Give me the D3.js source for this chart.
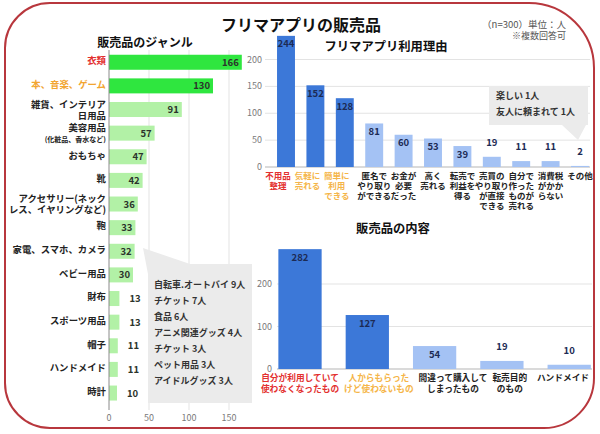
<!DOCTYPE html>
<html><head><meta charset="utf-8">
<script src="https://cdn.jsdelivr.net/npm/d3@7"></script>
<style>
html,body{margin:0;padding:0;background:#fff;}
svg{display:block;font-family:"Noto Sans CJK JP","Noto Sans",sans-serif;}
</style></head>
<body><svg id="chart" width="600" height="434"></svg>
<script>
// ---------- data ----------
const mainTitle = "フリマアプリの販売品";
const noteLines = ["（n=300）単位：人", "※複数回答可"];

const genreTitle = "販売品のジャンル";
const genreLabels = [["衣類"],["本、音楽、ゲーム"],["雑貨、インテリア","日用品"],["美容用品","(化粧品、香水など)"],["おもちゃ"],["靴"],["アクセサリー(ネック","レス、イヤリングなど)"],["鞄"],["家電、スマホ、カメラ"],["ベビー用品"],["財布"],["スポーツ用品"],["帽子"],["ハンドメイド"],["時計"]];
const genreValues = [166,130,91,57,47,42,36,33,32,30,13,13,11,11,10];
const genreTicks = [0,50,100,150];
const genreOther = ["自転車.オートバイ 9人","チケット 7人","食品 6人","アニメ関連グッズ 4人","チケット 3人","ペット用品 3人","アイドルグッズ 3人"];

const reasonTitle = "フリマアプリ利用理由";
const reasonLabels = [["不用品","整理"],["気軽に","売れる"],["簡単に","利用","できる"],["匿名で","やり取り","ができる"],["お金が","必要","だった"],["高く","売れる"],["転売で","利益を","得る"],["売買の","やり取り","が直接","できる"],["自分で","作った","ものが","売れる"],["消費税","がかか","らない"],["その他"]];
const reasonValues = [244,152,128,81,60,53,39,19,11,11,2];
const reasonTicks = [0,50,100,150,200];
const reasonOther = ["楽しい 1人","友人に頼まれて 1人"];

const contentTitle = "販売品の内容";
const contentLabels = [["自分が利用していて","使わなくなったもの"],["人からもらった","けど使わないもの"],["間違って購入して","しまったもの"],["転売目的","のもの"],["ハンドメイド"]];
const contentValues = [282,127,54,19,10];
const contentTicks = [0,100,200];

// ---------- styles ----------
const RED = "#e3302f", ORANGE = "#f2a530", ORANGE2 = "#f5b548";
const GREEN_HI = "#2fe63f", GREEN_LO = "#b2f1a6";
const BLUE_HI = "#3c78d8", BLUE_LO = "#a4c2f4";
const NAVY = "#1c2b55", GRID = "#e3e3e3", TICK = "#7a7a7a", TXT = "#222";

const svg = d3.select("#chart");

// border
svg.append("path")
  .attr("d","M50,3 H529 A65,65 0 0 1 594,68 V378 A50,50 0 0 1 544,428 H50 A45,45 0 0 1 5,383 V48 A45,45 0 0 1 50,3 Z")
  .attr("fill","#fff").attr("stroke","#b8373d").attr("stroke-width",2);

// title + notes
svg.append("text").attr("x",301).attr("y",31).attr("text-anchor","middle")
  .attr("font-size",16).attr("font-weight",700).attr("fill","#111").text(mainTitle);
svg.append("text").attr("x",566).attr("y",28).attr("text-anchor","end")
  .attr("font-size",9.5).attr("fill","#555").text(noteLines[0]);
svg.append("text").attr("x",566).attr("y",38.5).attr("text-anchor","end")
  .attr("font-size",9).attr("fill","#555").text(noteLines[1]);

// ================= LEFT: genre =================
const gx = d3.scaleLinear().domain([0,150]).range([109,229]);
const gy = d3.scaleBand().domain(d3.range(genreValues.length)).range([50.5,404.8]).paddingInner(0.365).paddingOuter(0.18);

svg.append("text").attr("x",145).attr("y",47).attr("text-anchor","middle")
  .attr("font-size",12).attr("font-weight",700).attr("fill","#111").text(genreTitle);

const gL = svg.append("g");
gL.selectAll("line.grid").data(genreTicks.slice(1)).join("line")
  .attr("x1",d=>gx(d)).attr("x2",d=>gx(d)).attr("y1",50).attr("y2",410)
  .attr("stroke",GRID).attr("stroke-width",1);
gL.selectAll("text.tick").data(genreTicks).join("text")
  .attr("x",d=>gx(d)).attr("y",421).attr("text-anchor","middle")
  .attr("font-size",9).attr("fill",TICK).text(d=>d);

gL.selectAll("rect").data(genreValues).join("rect")
  .attr("x",gx(0)).attr("y",(d,i)=>gy(i)).attr("width",d=>gx(d)-gx(0)).attr("height",gy.bandwidth())
  .attr("fill",(d,i)=>i<2?GREEN_HI:GREEN_LO);

gL.append("line").attr("x1",109).attr("x2",109).attr("y1",50).attr("y2",410)
  .attr("stroke","#8a8a8a").attr("stroke-width",1);

gL.selectAll("text.val").data(genreValues).join("text")
  .attr("x",d=>d>=30?gx(d)-3:gx(d)+10)
  .attr("y",(d,i)=>gy(i)+gy.bandwidth()/2+3.5)
  .attr("text-anchor",d=>d>=30?"end":"start")
  .attr("font-size",9.5).attr("font-weight",700).attr("fill","#2b332b").text(d=>d);

genreLabels.forEach((lines,i)=>{
  const c = gy(i)+gy.bandwidth()/2;
  const color = i===0?RED:(i===1?ORANGE:TXT);
  lines.forEach((ln,j)=>{
    const small = ln.startsWith("(") && j===1;
    let cy;
    if(lines.length===1) cy = c-1.5;
    else cy = j===0 ? c-5 : c+6;
    gL.append("text").attr("x",106).attr("y",cy+(small?2.5:3.3))
      .attr("text-anchor","end").attr("font-size",small?7:9.4).attr("font-weight",700)
      .attr("fill",color).text(ln);
  });
});

// callout box (left)
svg.append("path")
  .attr("d","M143,248 L190,264 L252,264 L252,403 L148,403 L148,274 Z")
  .attr("fill","#ebebeb");
svg.selectAll("text.other1").data(genreOther).join("text")
  .attr("x",154).attr("y",(d,i)=>287.5+i*16)
  .attr("font-size",9).attr("font-weight",700).attr("fill","#333").text(d=>d);

// ================= TOP RIGHT: reasons =================
const rx = d3.scaleBand().domain(d3.range(reasonValues.length)).range([271.3,594.7]).paddingInner(0.39).paddingOuter(0.195);
const ry = d3.scaleLinear().domain([0,200]).range([167,59.5]);

const gR = svg.append("g");
gR.selectAll("line.grid").data(reasonTicks).join("line")
  .attr("x1",265).attr("x2",590).attr("y1",d=>ry(d)).attr("y2",d=>ry(d))
  .attr("stroke",d=>d===0?"#b5b5b5":GRID).attr("stroke-width",1);
gR.selectAll("text.tick").data(reasonTicks).join("text")
  .attr("x",262).attr("y",d=>ry(d)+3).attr("text-anchor","end")
  .attr("font-size",9).attr("fill",TICK).text(d=>d);

svg.append("path")
  .attr("d","M489,86 L588,86 L588,125 L586,125 L578,140 L562,125 L489,125 Z")
  .attr("fill","#ebebeb");
svg.selectAll("text.other2").data(reasonOther).join("text")
  .attr("x",496).attr("y",(d,i)=>98.5+i*16)
  .attr("font-size",9).attr("font-weight",700).attr("fill","#333").text(d=>d);

gR.selectAll("rect").data(reasonValues).join("rect")
  .attr("x",(d,i)=>rx(i)).attr("width",rx.bandwidth())
  .attr("y",d=>ry(d)).attr("height",d=>ry(0)-ry(d))
  .attr("fill",(d,i)=>i<3?BLUE_HI:BLUE_LO);
gR.selectAll("text.val").data(reasonValues).join("text")
  .attr("x",(d,i)=>rx(i)+rx.bandwidth()/2)
  .attr("y",d=>d>=30?ry(d)+11.5:ry(d)-11)
  .attr("text-anchor","middle").attr("font-size",9.5).attr("font-weight",700)
  .attr("fill",NAVY).text(d=>d);

reasonLabels.forEach((lines,i)=>{
  const cx = rx(i)+rx.bandwidth()/2 + (i<3?-8:0);
  const color = i===0?RED:(i<3?ORANGE2:TXT);
  lines.forEach((ln,j)=>{
    gR.append("text").attr("x",cx).attr("y",178.5+j*10.3)
      .attr("text-anchor","middle").attr("font-size",8.5).attr("font-weight",700)
      .attr("fill",color).text(ln);
  });
});

svg.append("text").attr("x",386).attr("y",51).attr("text-anchor","middle")
  .attr("font-size",12.3).attr("font-weight",700).attr("fill","#111").text(reasonTitle);

// ================= BOTTOM RIGHT: content =================
const cx = d3.scaleBand().domain(d3.range(contentValues.length)).range([266.35,602.85]).paddingInner(0.357).paddingOuter(0.1785);
const cy = d3.scaleLinear().domain([0,200]).range([369,284]);

svg.append("text").attr("x",393).attr("y",233).attr("text-anchor","middle")
  .attr("font-size",12.3).attr("font-weight",700).attr("fill","#111").text(contentTitle);

const gC = svg.append("g");
gC.selectAll("line.grid").data(contentTicks).join("line")
  .attr("x1",277).attr("x2",592).attr("y1",d=>cy(d)).attr("y2",d=>cy(d))
  .attr("stroke",d=>d===0?"#b5b5b5":GRID).attr("stroke-width",1);
gC.selectAll("text.tick").data(contentTicks).join("text")
  .attr("x",272).attr("y",d=>cy(d)+3).attr("text-anchor","end")
  .attr("font-size",9).attr("fill",TICK).text(d=>d);

gC.selectAll("rect").data(contentValues).join("rect")
  .attr("x",(d,i)=>cx(i)).attr("width",cx.bandwidth())
  .attr("y",d=>cy(d)).attr("height",d=>cy(0)-cy(d))
  .attr("fill",(d,i)=>i<2?BLUE_HI:BLUE_LO);
gC.selectAll("text.val").data(contentValues).join("text")
  .attr("x",(d,i)=>cx(i)+cx.bandwidth()/2)
  .attr("y",d=>d>=30?cy(d)+12:cy(d)-11)
  .attr("text-anchor","middle").attr("font-size",9.5).attr("font-weight",700)
  .attr("fill",NAVY).text(d=>d);

// category labels laid out left-to-right without collisions
const groups = contentLabels.map((lines,i)=>{
  const color = i===0?RED:(i===1?ORANGE2:TXT);
  const texts = lines.map((ln,j)=>gC.append("text").attr("y",381+j*10.5)
      .attr("text-anchor","middle").attr("font-size",8.7).attr("font-weight",700)
      .attr("fill",color).text(ln));
  const w = d3.max(texts, t=>t.node().getComputedTextLength());
  return {texts, w, c: cx(i)+cx.bandwidth()/2};
});
let prevEnd = 250;
groups.forEach(g=>{
  let left = Math.max(g.c - g.w/2, prevEnd + 5);
  g.left = left; prevEnd = left + g.w;
});
let nextStart = 589;
for(let k=groups.length-1;k>=0;k--){
  const g = groups[k];
  if(g.left + g.w > nextStart - (k===groups.length-1?0:5)) g.left = nextStart - (k===groups.length-1?0:5) - g.w;
  nextStart = g.left;
}
groups.forEach(g=>g.texts.forEach(t=>t.attr("x", g.left + g.w/2)));
</script></body></html>
